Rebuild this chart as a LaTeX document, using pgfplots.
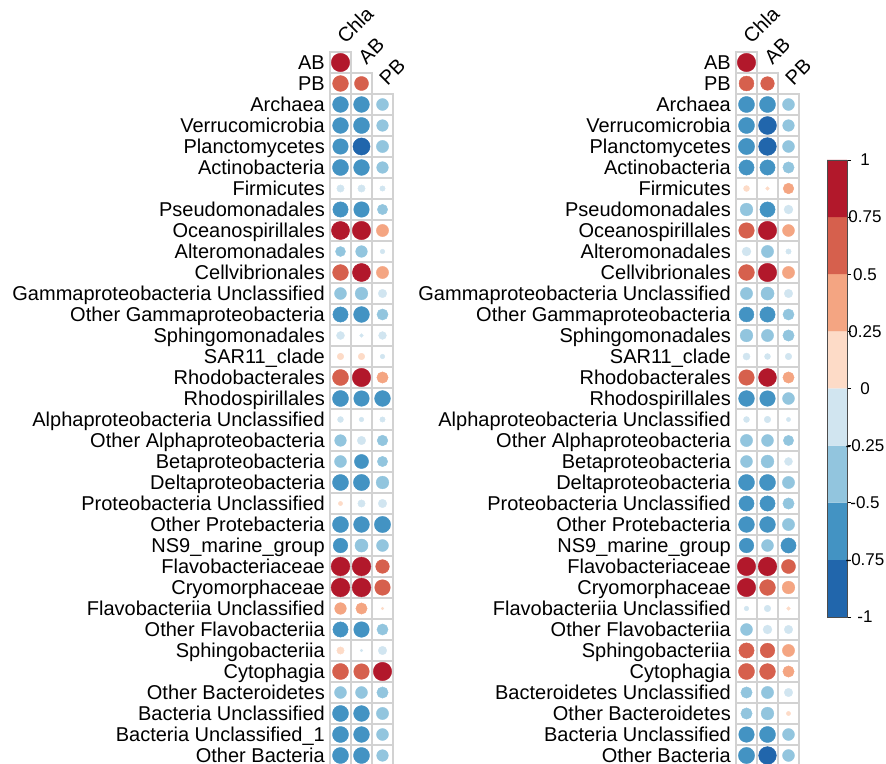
\documentclass[border=0pt]{standalone}
\usepackage{fontspec}
\setmainfont{Liberation Sans}
\usepackage{pgfplots}
\usepackage{pgfplotstable}
\pgfplotsset{compat=1.18}
\definecolor{cA}{HTML}{B2182B}
\definecolor{cB}{HTML}{D6604D}
\definecolor{cC}{HTML}{F4A582}
\definecolor{cD}{HTML}{FDDBC7}
\definecolor{cE}{HTML}{D1E5F0}
\definecolor{cF}{HTML}{92C5DE}
\definecolor{cG}{HTML}{4393C3}
\definecolor{cH}{HTML}{2166AC}

\pgfplotstableread{
x y r c
1 1 0.95 a
1 2 0.70 b
2 2 0.55 b
1 3 -0.70 g
2 3 -0.70 g
3 3 -0.40 f
1 4 -0.70 g
2 4 -0.72 g
3 4 -0.38 f
1 5 -0.68 g
2 5 -0.82 h
3 5 -0.42 f
1 6 -0.72 g
2 6 -0.70 g
3 6 -0.38 f
1 7 -0.15 e
2 7 -0.15 e
3 7 -0.08 e
1 8 -0.66 g
2 8 -0.68 g
3 8 -0.30 f
1 9 0.92 a
2 9 0.95 a
3 9 0.42 c
1 10 -0.28 f
2 10 -0.38 f
3 10 -0.06 e
1 11 0.70 b
2 11 0.92 a
3 11 0.42 c
1 12 -0.40 f
2 12 -0.45 f
3 12 -0.20 e
1 13 -0.65 g
2 13 -0.70 g
3 13 -0.35 f
1 14 -0.18 e
2 14 -0.04 e
3 14 -0.17 e
1 15 0.12 d
2 15 0.12 d
3 15 -0.06 e
1 16 0.72 b
2 16 0.95 a
3 16 0.36 c
1 17 -0.72 g
2 17 -0.68 g
3 17 -0.70 g
1 18 -0.10 e
2 18 -0.06 e
3 18 -0.08 e
1 19 -0.38 f
2 19 -0.20 e
3 19 -0.32 f
1 20 -0.40 f
2 20 -0.56 g
3 20 -0.30 f
1 21 -0.72 g
2 21 -0.74 g
3 21 -0.45 f
1 22 0.05 d
2 22 -0.15 e
3 22 -0.20 e
1 23 -0.72 g
2 23 -0.70 g
3 23 -0.74 g
1 24 -0.60 g
2 24 -0.48 f
3 24 -0.40 f
1 25 0.98 a
2 25 0.98 a
3 25 0.52 b
1 26 0.98 a
2 26 0.98 a
3 26 0.68 b
1 27 0.38 c
2 27 0.36 c
3 27 0.02 d
1 28 -0.65 g
2 28 -0.68 g
3 28 -0.35 f
1 29 0.15 d
2 29 -0.02 e
3 29 -0.20 e
1 30 0.72 b
2 30 0.68 b
3 30 0.95 a
1 31 -0.40 f
2 31 -0.40 f
3 31 -0.36 f
1 32 -0.72 g
2 32 -0.70 g
3 32 -0.42 f
1 33 -0.72 g
2 33 -0.70 g
3 33 -0.40 f
1 34 -0.72 g
2 34 -0.72 g
3 34 -0.38 f
}\tabL

\pgfplotstableread{
x y r c
1 1 0.95 a
1 2 0.62 b
2 2 0.52 b
1 3 -0.72 g
2 3 -0.72 g
3 3 -0.40 f
1 4 -0.72 g
2 4 -0.90 h
3 4 -0.38 f
1 5 -0.74 g
2 5 -0.88 h
3 5 -0.40 f
1 6 -0.65 g
2 6 -0.65 g
3 6 -0.36 f
1 7 0.10 d
2 7 0.04 d
3 7 0.32 c
1 8 -0.45 f
2 8 -0.65 g
3 8 -0.22 e
1 9 0.68 b
2 9 0.95 a
3 9 0.40 c
1 10 -0.22 e
2 10 -0.42 f
3 10 -0.08 e
1 11 0.70 b
2 11 0.95 a
3 11 0.42 c
1 12 -0.42 f
2 12 -0.48 f
3 12 -0.20 e
1 13 -0.62 g
2 13 -0.66 g
3 13 -0.35 f
1 14 -0.45 f
2 14 -0.42 f
3 14 -0.36 f
1 15 -0.14 e
2 15 -0.10 e
3 15 -0.12 e
1 16 0.68 b
2 16 0.90 a
3 16 0.36 c
1 17 -0.70 g
2 17 -0.68 g
3 17 -0.40 f
1 18 -0.10 e
2 18 -0.12 e
3 18 -0.05 e
1 19 -0.42 f
2 19 -0.40 f
3 19 -0.30 f
1 20 -0.40 f
2 20 -0.46 f
3 20 -0.18 e
1 21 -0.72 g
2 21 -0.72 g
3 21 -0.42 f
1 22 -0.64 g
2 22 -0.65 g
3 22 -0.36 f
1 23 -0.70 g
2 23 -0.70 g
3 23 -0.42 f
1 24 -0.60 g
2 24 -0.40 f
3 24 -0.64 g
1 25 0.95 a
2 25 0.97 a
3 25 0.55 b
1 26 0.95 a
2 26 0.70 b
3 26 0.45 c
1 27 -0.06 e
2 27 -0.12 e
3 27 0.04 d
1 28 -0.40 f
2 28 -0.22 e
3 28 -0.20 e
1 29 0.65 b
2 29 0.60 b
3 29 0.42 c
1 30 0.72 b
2 30 0.70 b
3 30 0.36 c
1 31 -0.36 f
2 31 -0.42 f
3 31 -0.20 e
1 32 -0.36 f
2 32 -0.45 f
3 32 0.05 d
1 33 -0.68 g
2 33 -0.72 g
3 33 -0.40 f
1 34 -0.74 g
2 34 -0.88 h
3 34 -0.40 f
}\tabR

\pgfplotsset{
  corrpanel/.style={scale only axis, width=63pt, height=714pt,
    xmin=0.5, xmax=3.5, ymin=0.5, ymax=34.5, y dir=reverse,
    axis line style={draw=none}, xtick=\empty, ytick={1,...,34},
    major tick length=0pt, tick style={draw=none},
    yticklabel style={font=\fontsize{20}{20}\selectfont, anchor=east,
      inner sep=0pt, xshift=-5pt, text height=14pt, text depth=0pt},
    clip=false},
  cells/.style={only marks, mark=square, mark size=10.5pt,
    mark options={draw=gray!35, line width=1.1pt}},
  circ/.style={scatter, only marks, mark=*, scatter src=explicit symbolic,
    scatter/classes={a={fill=cA,draw=cA}, b={fill=cB,draw=cB},
      c={fill=cC,draw=cC}, d={fill=cD,draw=cD}, e={fill=cE,draw=cE},
      f={fill=cF,draw=cF}, g={fill=cG,draw=cG}, h={fill=cH,draw=cH}},
    visualization depends on={9.45*sqrt(abs(\thisrow{r})) \as \msz},
    scatter/@pre marker code/.append style={/tikz/mark size=\msz}}
}
\tikzset{
  collab/.style={font=\fontsize{20}{20}\selectfont, anchor=base west,
    inner sep=0pt, rotate=45}
}

\begin{document}
\begin{tikzpicture}
\useasboundingbox (0pt,0pt) rectangle (886pt,763pt);
% left panel
\begin{axis}[corrpanel, at={(330pt,711pt)}, anchor=north west,
  yticklabels={AB, PB, Archaea, Verrucomicrobia, Planctomycetes, Actinobacteria, Firmicutes, Pseudomonadales, Oceanospirillales, Alteromonadales, Cellvibrionales, Gammaproteobacteria Unclassified, Other Gammaproteobacteria, Sphingomonadales, SAR11\_clade, Rhodobacterales, Rhodospirillales, Alphaproteobacteria Unclassified, Other Alphaproteobacteria, Betaproteobacteria, Deltaproteobacteria, Proteobacteria Unclassified, Other Protebacteria, NS9\_marine\_group, Flavobacteriaceae, Cryomorphaceae, Flavobacteriia Unclassified, Other Flavobacteriia, Sphingobacteriia, Cytophagia, Other Bacteroidetes, Bacteria Unclassified, Bacteria Unclassified\_1, Other Bacteria}]
\addplot[cells] table[x=x,y=y] {\tabL};
\addplot[circ] table[x=x,y=y,meta=c] {\tabL};
\node[collab] at ([xshift=5pt,yshift=7.5pt]axis cs:1,0.5) {Chla};
\node[collab] at ([xshift=5pt,yshift=7.5pt]axis cs:2,1.5) {AB};
\node[collab] at ([xshift=5pt,yshift=7.5pt]axis cs:3,2.5) {PB};
\end{axis}
% right panel
\begin{axis}[corrpanel, at={(736pt,711pt)}, anchor=north west,
  yticklabels={AB, PB, Archaea, Verrucomicrobia, Planctomycetes, Actinobacteria, Firmicutes, Pseudomonadales, Oceanospirillales, Alteromonadales, Cellvibrionales, Gammaproteobacteria Unclassified, Other Gammaproteobacteria, Sphingomonadales, SAR11\_clade, Rhodobacterales, Rhodospirillales, Alphaproteobacteria Unclassified, Other Alphaproteobacteria, Betaproteobacteria, Deltaproteobacteria, Proteobacteria Unclassified, Other Protebacteria, NS9\_marine\_group, Flavobacteriaceae, Cryomorphaceae, Flavobacteriia Unclassified, Other Flavobacteriia, Sphingobacteriia, Cytophagia, Bacteroidetes Unclassified, Other Bacteroidetes, Bacteria Unclassified, Other Bacteria}]
\addplot[cells] table[x=x,y=y] {\tabR};
\addplot[circ] table[x=x,y=y,meta=c] {\tabR};
\node[collab] at ([xshift=5pt,yshift=7.5pt]axis cs:1,0.5) {Chla};
\node[collab] at ([xshift=5pt,yshift=7.5pt]axis cs:2,1.5) {AB};
\node[collab] at ([xshift=5pt,yshift=7.5pt]axis cs:3,2.5) {PB};
\end{axis}
% colour bar
\begin{axis}[at={(827pt,603pt)}, anchor=north west, scale only axis,
  width=20pt, height=457pt, xmin=0, xmax=1, ymin=-1, ymax=1,
  xtick=\empty, ytick={-1,-0.75,-0.5,-0.25,0,0.25,0.5,0.75,1},
  ytick pos=right, tick align=outside, major tick length=4pt,
  tick style={black, line width=0.6pt},
  /pgf/number format/assume math mode=true,
  yticklabel style={font=\fontsize{17}{17}\selectfont, anchor=center, xshift=14pt},
  axis line style={draw=black!70, line width=0.8pt}, axis on top]
\addplot[draw=none, fill=cH] coordinates {(0,-1) (1,-1) (1,-0.75) (0,-0.75) (0,-1)};
\addplot[draw=none, fill=cG] coordinates {(0,-0.75) (1,-0.75) (1,-0.5) (0,-0.5) (0,-0.75)};
\addplot[draw=none, fill=cF] coordinates {(0,-0.5) (1,-0.5) (1,-0.25) (0,-0.25) (0,-0.5)};
\addplot[draw=none, fill=cE] coordinates {(0,-0.25) (1,-0.25) (1,0) (0,0) (0,-0.25)};
\addplot[draw=none, fill=cD] coordinates {(0,0) (1,0) (1,0.25) (0,0.25) (0,0)};
\addplot[draw=none, fill=cC] coordinates {(0,0.25) (1,0.25) (1,0.5) (0,0.5) (0,0.25)};
\addplot[draw=none, fill=cB] coordinates {(0,0.5) (1,0.5) (1,0.75) (0,0.75) (0,0.5)};
\addplot[draw=none, fill=cA] coordinates {(0,0.75) (1,0.75) (1,1) (0,1) (0,0.75)};
\end{axis}
\end{tikzpicture}
\end{document}
